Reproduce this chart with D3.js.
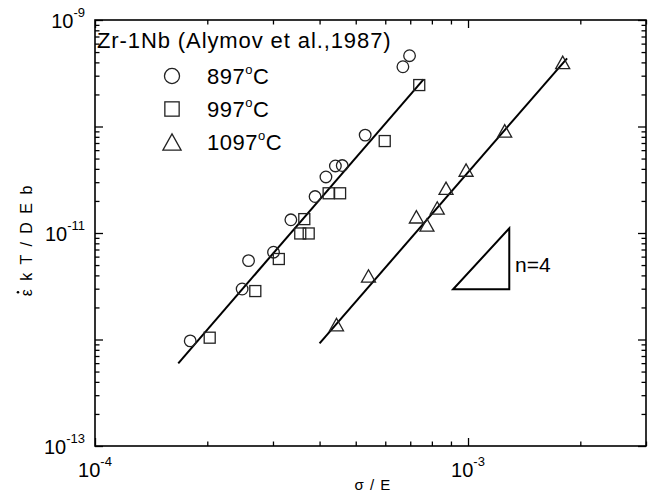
<!DOCTYPE html>
<html>
<head>
<meta charset="utf-8">
<script src="https://cdn.jsdelivr.net/npm/d3@7"></script>
<style>
  body { margin: 0; background: #fff; }
  text { font-family: "Liberation Sans", Arial, sans-serif; fill: #000; }
</style>
</head>
<body>
<div id="chart"></div>
<script>
// series labels (temperatures) and marker shapes
const temps = ['897', '997', '1097'];
const shapes = ['circle', 'square', 'triangle'];

// sigma / E and normalised creep rate
const stress897 = [1.80e-4, 2.48e-4, 2.58e-4, 3.01e-4, 3.35e-4, 3.89e-4, 4.16e-4, 4.41e-4, 4.60e-4, 5.30e-4, 6.69e-4, 6.97e-4];
const rate897   = [9.7e-13, 2.98e-12, 5.5e-12, 6.6e-12, 1.33e-11, 2.2e-11, 3.36e-11, 4.26e-11, 4.3e-11, 8.3e-11, 3.64e-10, 4.62e-10];

const stress997 = [2.03e-4, 2.69e-4, 3.11e-4, 3.55e-4, 3.64e-4, 3.74e-4, 4.23e-4, 4.54e-4, 5.98e-4, 7.40e-4];
const rate997   = [1.04e-12, 2.85e-12, 5.7e-12, 9.9e-12, 1.35e-11, 9.9e-12, 2.36e-11, 2.36e-11, 7.3e-11, 2.45e-10];

const stress1097 = [4.44e-4, 5.41e-4, 7.27e-4, 7.76e-4, 8.27e-4, 8.73e-4, 9.88e-4, 1.254e-3, 1.794e-3];
const rate1097   = [1.38e-12, 3.95e-12, 1.42e-11, 1.19e-11, 1.72e-11, 2.63e-11, 3.9e-11, 9.1e-11, 4.0e-10];

// n = 4 fit lines (end points)
const fitLowX  = [1.672e-4, 7.60e-4];
const fitLowY  = [5.98e-13, 2.775e-10];
const fitHighX = [4.0e-4, 1.843e-3];
const fitHighY = [9.2e-13, 4.37e-10];

// slope triangle
const slopeX = [9.12e-4, 1.29e-3, 1.29e-3];
const slopeY = [2.96e-12, 2.96e-12, 1.107e-11];

// labelled ticks
const xLabelTicks = [1e-4, 1e-3];
const yLabelTicks = [1e-9, 1e-11, 1e-13];

const width = 655, height = 495;
const margin = { top: 20, right: 9, bottom: 49, left: 95 };

const x = d3.scaleLog().domain([1e-4, 3e-3]).range([margin.left, width - margin.right]);
const y = d3.scaleLog().domain([1e-13, 1e-9]).range([height - margin.bottom, margin.top]);

const svg = d3.select('#chart').append('svg')
    .attr('width', width)
    .attr('height', height);

const isMajor = v => Math.abs(Math.log10(v) - Math.round(Math.log10(v))) < 1e-6;

// ticks on all four sides, pointing inward
function styleTicks(g, attr, sign) {
    g.select('.domain').remove();
    g.selectAll('.tick line')
        .attr(attr, d => sign * (isMajor(d) ? 8 : 4.5))
        .attr('stroke', '#000')
        .attr('stroke-width', 1.3);
}

svg.append('g')
    .attr('transform', `translate(0,${height - margin.bottom})`)
    .call(d3.axisBottom(x).tickValues(x.ticks()).tickFormat('').tickSizeOuter(0))
    .call(g => styleTicks(g, 'y2', -1));
svg.append('g')
    .attr('transform', `translate(0,${margin.top})`)
    .call(d3.axisTop(x).tickValues(x.ticks()).tickFormat('').tickSizeOuter(0))
    .call(g => styleTicks(g, 'y2', 1));
svg.append('g')
    .attr('transform', `translate(${margin.left},0)`)
    .call(d3.axisLeft(y).tickValues(y.ticks()).tickFormat('').tickSizeOuter(0))
    .call(g => styleTicks(g, 'x2', 1));
svg.append('g')
    .attr('transform', `translate(${width - margin.right},0)`)
    .call(d3.axisRight(y).tickValues(y.ticks()).tickFormat('').tickSizeOuter(0))
    .call(g => styleTicks(g, 'x2', -1));

// frame
svg.append('rect')
    .attr('x', margin.left)
    .attr('y', margin.top)
    .attr('width', width - margin.left - margin.right)
    .attr('height', height - margin.top - margin.bottom)
    .attr('fill', 'none')
    .attr('stroke', '#000')
    .attr('stroke-width', 1.6);

// power-of-ten labels
function powerLabel(sel, v) {
    sel.append('tspan').text('10');
    sel.append('tspan')
        .attr('dy', -11)
        .attr('font-size', 13)
        .text(Math.round(Math.log10(v)));
}

xLabelTicks.forEach(v => {
    svg.append('text')
        .attr('x', x(v))
        .attr('y', 477)
        .attr('text-anchor', 'middle')
        .attr('font-size', 20)
        .call(powerLabel, v);
});

yLabelTicks.forEach(v => {
    svg.append('text')
        .attr('x', margin.left - 10)
        .attr('y', y(v) + 8)
        .attr('text-anchor', 'end')
        .attr('font-size', 20)
        .call(powerLabel, v);
});

// axis titles
svg.append('text')
    .attr('x', 373)
    .attr('y', 490)
    .attr('text-anchor', 'middle')
    .attr('font-size', 15)
    .attr('letter-spacing', 1)
    .text('σ / E');

const yTitle = svg.append('g').attr('transform', 'translate(32,240) rotate(-90)');
const yTitleText = yTitle.append('text')
    .attr('text-anchor', 'middle')
    .attr('font-size', 16)
    .attr('letter-spacing', 2)
    .text('ε k T / D E b');
const tLen = yTitleText.node().getComputedTextLength();
yTitle.append('circle')
    .attr('cx', -tLen / 2 + 4)
    .attr('cy', -14)
    .attr('r', 1.3)
    .attr('fill', '#000');

// markers
function marker(sel, shape, s) {
    if (shape === 'circle') {
        sel.append('circle').attr('r', 5.8 * s);
    } else if (shape === 'square') {
        sel.append('rect')
            .attr('x', -5.5 * s).attr('y', -5.5 * s)
            .attr('width', 11 * s).attr('height', 11 * s);
    } else {
        const w = 7 * s, h = 6.2 * s;
        sel.append('path').attr('d', `M0,${-h}L${w},${h}L${-w},${h}Z`);
    }
}

// fit lines
const line = d3.line().x(d => x(d[0])).y(d => y(d[1]));
[[fitLowX, fitLowY], [fitHighX, fitHighY]].forEach(([xs, ys]) => {
    svg.append('path')
        .attr('d', line(xs.map((v, i) => [v, ys[i]])))
        .attr('fill', 'none')
        .attr('stroke', '#000')
        .attr('stroke-width', 2);
});

const series = [
    { xs: stress897, ys: rate897 },
    { xs: stress997, ys: rate997 },
    { xs: stress1097, ys: rate1097 }
];

series.forEach((s, k) => {
    const pts = s.xs.map((v, i) => [v, s.ys[i]]);
    svg.append('g')
        .attr('fill', 'none')
        .attr('stroke', '#222')
        .attr('stroke-width', 1.3)
        .selectAll('g')
        .data(pts)
        .enter().append('g')
        .attr('transform', d => `translate(${x(d[0])},${y(d[1])})`)
        .each(function() { marker(d3.select(this), shapes[k], 1); });
});

// slope triangle
svg.append('path')
    .attr('d', line(slopeX.map((v, i) => [v, slopeY[i]])) + 'Z')
    .attr('fill', 'none')
    .attr('stroke', '#000')
    .attr('stroke-width', 2);

svg.append('text')
    .attr('x', 515)
    .attr('y', 272)
    .attr('font-size', 21)
    .text('n=4');

// legend
svg.append('text')
    .attr('x', 97)
    .attr('y', 48)
    .attr('font-size', 22)
    .attr('letter-spacing', 0.9)
    .text('Zr-1Nb (Alymov et al.,1987)');

const legendY = [76, 109, 142];
temps.forEach((t, k) => {
    svg.append('g')
        .attr('transform', `translate(172,${legendY[k]})`)
        .attr('fill', 'none')
        .attr('stroke', '#222')
        .attr('stroke-width', 1.3)
        .call(marker, shapes[k], 1.3);
    const txt = svg.append('text')
        .attr('x', 207)
        .attr('y', legendY[k] + 7.5)
        .attr('font-size', 22)
        .attr('letter-spacing', 0.5);
    txt.append('tspan').text(t);
    txt.append('tspan').attr('dy', -10).attr('font-size', 13).text('o');
    txt.append('tspan').attr('dy', 10).text('C');
});
</script>
</body>
</html>
